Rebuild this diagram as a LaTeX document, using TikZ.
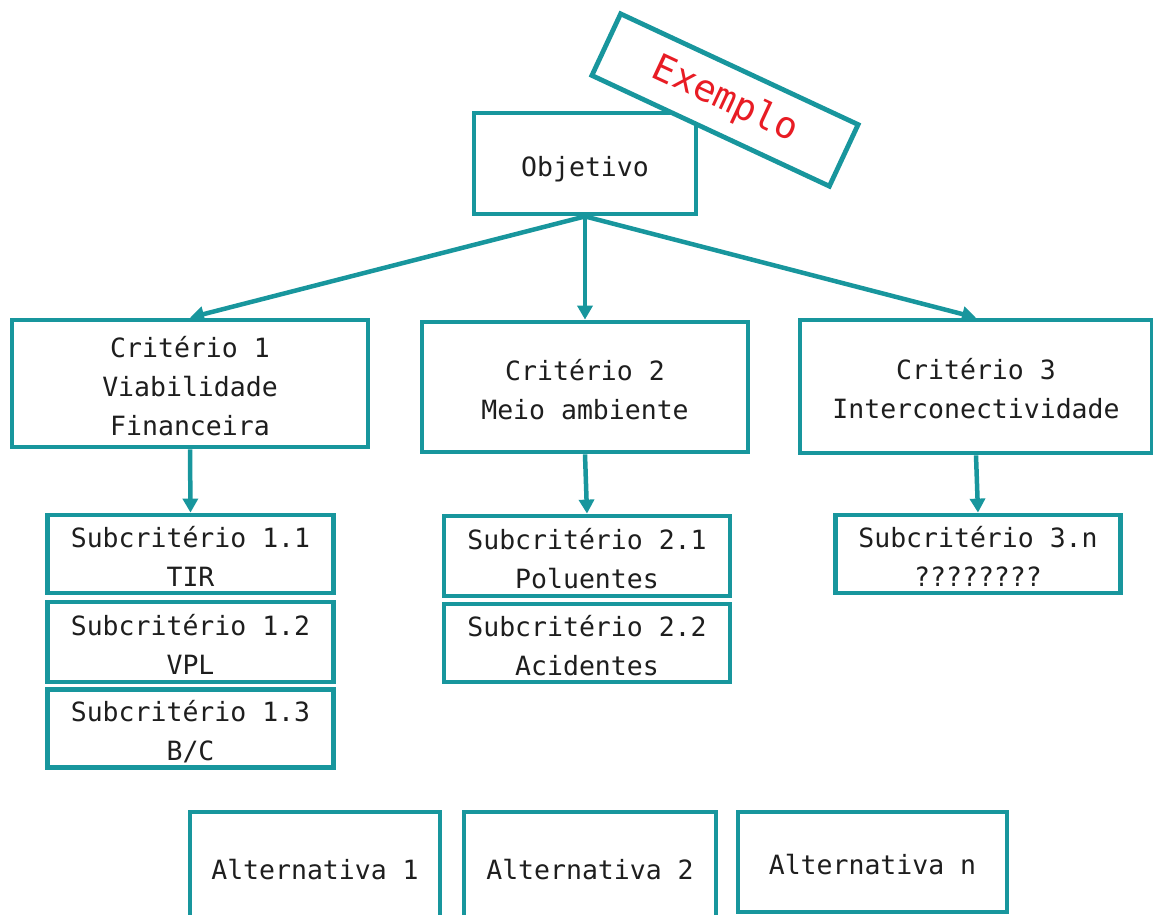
\documentclass[tikz,border=0pt]{standalone}
\usepackage{fontspec}
\setmonofont{DejaVu Sans Mono}
\usetikzlibrary{arrows.meta}
\definecolor{teal1}{RGB}{24,150,157}
\definecolor{ink}{RGB}{30,30,30}
\definecolor{exred}{RGB}{232,28,36}
% box text: centred lines, set a little below the box centre
\newcommand\boxtext[1]{\raisebox{-5pt}[\height][\depth]{\begin{tabular}{@{}c@{}}#1\end{tabular}}}
\begin{document}
\begin{tikzpicture}[x=1pt,y=-1pt,
  box/.style={draw=teal1, line width=4.8pt, fill=white, rectangle, inner sep=0pt,
    align=center, text=ink, font=\ttfamily\fontsize{26.5}{39}\selectfont},
  link/.style={draw=teal1, line width=4.5pt, -{Triangle[length=14pt,width=15pt]}}]
\path[use as bounding box, clip] (0,0) rectangle (1153,914);

% goal and criteria
\node[box, minimum width=222pt, minimum height=101pt] (obj) at (585,163.5) {\boxtext{Objetivo}};
\node[box, minimum width=262pt, minimum height=68pt, rotate=-25, text=exred,
      font=\ttfamily\fontsize{37}{40}\selectfont] (ex) at (725,100) {Exemplo};

\node[box, minimum width=356pt, minimum height=127pt] (c1) at (190,383.5)
  {\boxtext{Critério 1\\Viabilidade\\Financeira}};
\node[box, minimum width=326pt, minimum height=130pt] (c2) at (585,387)
  {\boxtext{Critério 2\\Meio ambiente}};
\node[box, minimum width=352pt, minimum height=133pt] (c3) at (976,386.5)
  {\boxtext{Critério 3\\Interconectividade}};

% sub-criteria
\node[box, minimum width=286pt, minimum height=77pt] (s11) at (190.5,554) {\boxtext{Subcritério 1.1\\TIR}};
\node[box, minimum width=286pt, minimum height=80pt] (s12) at (190.5,642) {\boxtext{Subcritério 1.2\\VPL}};
\node[box, minimum width=286pt, minimum height=77pt] (s13) at (190.5,728.5) {\boxtext{Subcritério 1.3\\B/C}};

\node[box, minimum width=286pt, minimum height=80pt] (s21) at (587,556) {\boxtext{Subcritério 2.1\\Poluentes}};
\node[box, minimum width=286pt, minimum height=78pt] (s22) at (587,643) {\boxtext{Subcritério 2.2\\Acidentes}};

\node[box, minimum width=285pt, minimum height=78pt] (s3n) at (978,554) {\boxtext{Subcritério 3.n\\????????}};

% alternatives
\node[box, minimum width=250pt, minimum height=110pt] (a1) at (315,867) {\boxtext{Alternativa 1}};
\node[box, minimum width=252pt, minimum height=110pt] (a2) at (590,867) {\boxtext{Alternativa 2}};
\node[box, minimum width=269pt, minimum height=100pt] (an) at (872.5,862) {\boxtext{Alternativa n}};

% connectors
\draw[link] (obj.south) -- (c1.north);
\draw[link] (obj.south) -- (c2.north);
\draw[link] (obj.south) -- (c3.north);
\draw[link] (c1.south) -- (s11.north);
\draw[link] (c2.south) -- (s21.north);
\draw[link] (c3.south) -- (s3n.north);
\end{tikzpicture}
\end{document}
